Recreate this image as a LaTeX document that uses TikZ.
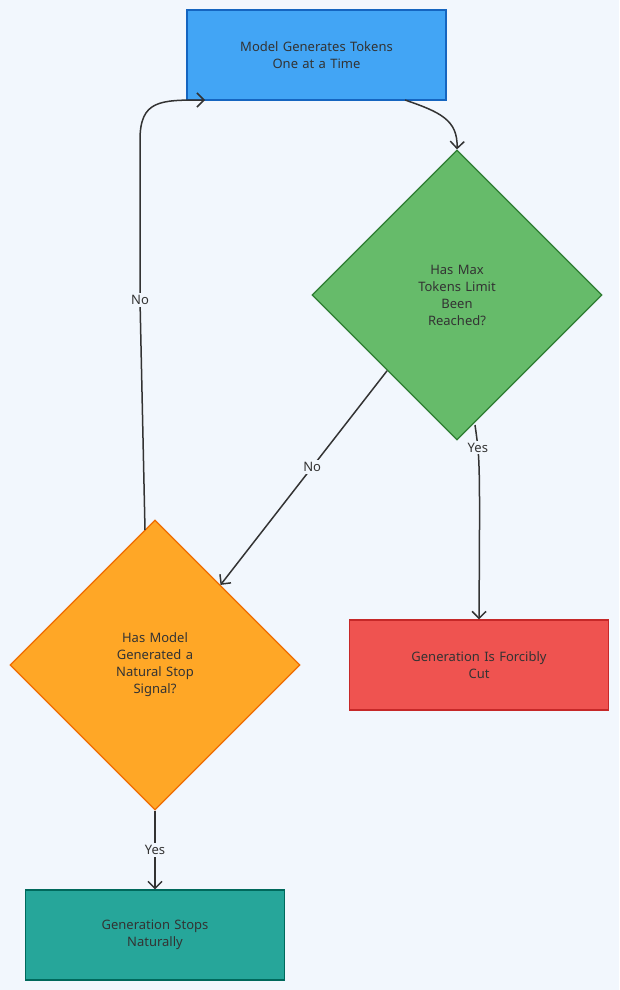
\documentclass[tikz,border=0pt]{standalone}
\usepackage{fontspec}
\setmainfont{Noto Sans}
\usetikzlibrary{shapes.geometric,calc,arrows.meta}
\definecolor{bg}{HTML}{F2F7FD}
\definecolor{ink}{HTML}{333333}
\definecolor{genfill}{HTML}{42A5F5}\definecolor{gendraw}{HTML}{1565C0}
\definecolor{maxfill}{HTML}{66BB6A}\definecolor{maxdraw}{HTML}{2E7D32}
\definecolor{stopfill}{HTML}{FFA726}\definecolor{stopdraw}{HTML}{EF6C00}
\definecolor{cutfill}{HTML}{EF5350}\definecolor{cutdraw}{HTML}{C62828}
\definecolor{natfill}{HTML}{26A69A}\definecolor{natdraw}{HTML}{00695C}
\tikzset{
    box/.style={draw,rectangle,line width=1.2pt,minimum width=259pt,minimum height=90pt,
        text width=200pt,align=center,text=ink,font=\fontsize{13}{17}\selectfont},
    ask/.style={draw,diamond,line width=1.2pt,minimum width=290pt,minimum height=290pt,
        inner sep=0pt,text width=110pt,align=center,text=ink,font=\fontsize{13}{17}\selectfont},
    flow/.style={draw=ink,line width=1.5pt,-{Straight Barb[length=7pt,width=14pt]}},
    tag/.style={fill=bg,inner sep=2pt,text=ink,font=\fontsize{13}{17}\selectfont}
}
\begin{document}
\begin{tikzpicture}[x=1pt,y=-1pt]
    \fill[bg] (0,0) rectangle (619,990);
    \useasboundingbox (0,0) rectangle (619,990);

    \node[box,fill=genfill,draw=gendraw] (gen) at (316.5,55) {Model Generates Tokens\\One at a Time};
    \node[ask,fill=maxfill,draw=maxdraw] (max) at (457,295) {Has Max\\Tokens Limit\\Been\\Reached?};
    \node[ask,fill=stopfill,draw=stopdraw] (stop) at (155,665) {Has Model\\Generated a\\Natural Stop\\Signal?};
    \node[box,fill=cutfill,draw=cutdraw] (cut) at (479,665) {Generation Is Forcibly\\Cut};
    \node[box,fill=natfill,draw=natdraw] (nat) at (155,935) {Generation Stops\\Naturally};

    \draw[flow] (405,100) .. controls (440,112) and (458,120) .. (max.north);
    \draw[flow] ($(max.west)!0.52!(max.south)$) -- node[tag,pos=0.45] {No} ($(stop.north)!0.45!(stop.east)$);
    \draw[flow] (475,425) .. controls (480,460) .. node[tag,pos=0.25] {Yes} (cut.north);
    \draw[flow] (145,530) -- (140,300) node[tag] {No} -- (140,140) .. controls (140,100) and (160,100) .. (205,100);
    \draw[flow] (stop.south) -- node[tag] {Yes} (nat.north);
\end{tikzpicture}
\end{document}
